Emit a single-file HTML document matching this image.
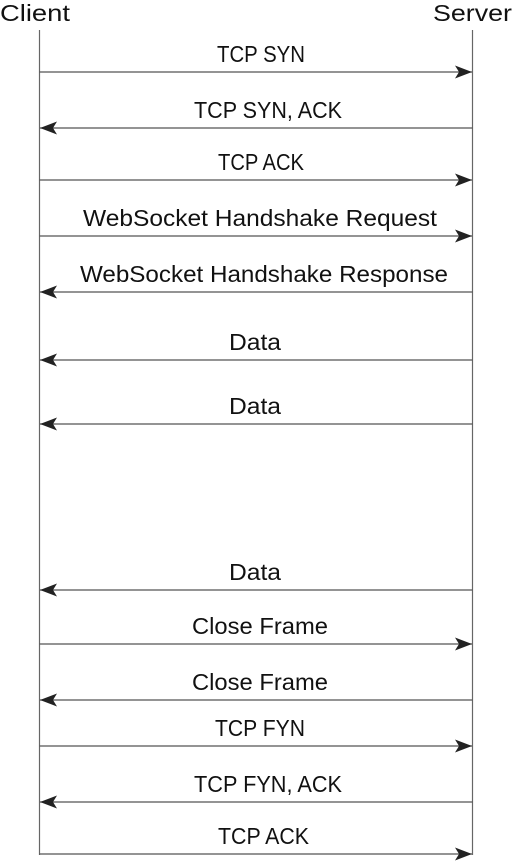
<!DOCTYPE html>
<html><head><style>html,body{margin:0;padding:0;background:#fff;}svg{display:block;}</style></head>
<body>
<svg width="512" height="866" xmlns="http://www.w3.org/2000/svg" font-family="Liberation Sans, sans-serif" font-size="23" fill="#111">
<defs>
<marker id="a" markerWidth="17" markerHeight="13" refX="17" refY="6.5" orient="auto" markerUnits="userSpaceOnUse">
<path d="M0,0 L17,6.5 L0,13 L4,6.5 Z" fill="#222"/>
</marker>
</defs>
<text x="0" y="21" textLength="70" lengthAdjust="spacingAndGlyphs">Client</text>
<text x="433" y="21" textLength="79" lengthAdjust="spacingAndGlyphs">Server</text>
<g stroke="#666" stroke-width="1.2">
<line x1="39.5" y1="30" x2="39.5" y2="855"/>
<line x1="472.5" y1="30" x2="472.5" y2="855"/>
</g>
<g stroke="#555" stroke-width="1.2" marker-end="url(#a)">
<line x1="39.5" y1="72" x2="472" y2="72"/>
<line x1="472.5" y1="128" x2="40" y2="128"/>
<line x1="39.5" y1="180" x2="472" y2="180"/>
<line x1="39.5" y1="236" x2="472" y2="236"/>
<line x1="472.5" y1="292" x2="40" y2="292"/>
<line x1="472.5" y1="360" x2="40" y2="360"/>
<line x1="472.5" y1="424" x2="40" y2="424"/>
<line x1="472.5" y1="590" x2="40" y2="590"/>
<line x1="39.5" y1="644" x2="472" y2="644"/>
<line x1="472.5" y1="700" x2="40" y2="700"/>
<line x1="39.5" y1="746" x2="472" y2="746"/>
<line x1="472.5" y1="802" x2="40" y2="802"/>
<line x1="39.5" y1="854" x2="472" y2="854"/>
</g>
<g>
<text x="217" y="62" textLength="88" lengthAdjust="spacingAndGlyphs">TCP SYN</text>
<text x="194" y="118" textLength="148" lengthAdjust="spacingAndGlyphs">TCP SYN, ACK</text>
<text x="218" y="170" textLength="86" lengthAdjust="spacingAndGlyphs">TCP ACK</text>
<text x="83" y="226" textLength="354" lengthAdjust="spacingAndGlyphs">WebSocket Handshake Request</text>
<text x="80" y="282" textLength="368" lengthAdjust="spacingAndGlyphs">WebSocket Handshake Response</text>
<text x="229" y="350" textLength="52" lengthAdjust="spacingAndGlyphs">Data</text>
<text x="229" y="414" textLength="52" lengthAdjust="spacingAndGlyphs">Data</text>
<text x="229" y="580" textLength="52" lengthAdjust="spacingAndGlyphs">Data</text>
<text x="192" y="634" textLength="136" lengthAdjust="spacingAndGlyphs">Close Frame</text>
<text x="192" y="690" textLength="136" lengthAdjust="spacingAndGlyphs">Close Frame</text>
<text x="215" y="736" textLength="90" lengthAdjust="spacingAndGlyphs">TCP FYN</text>
<text x="194" y="792" textLength="148" lengthAdjust="spacingAndGlyphs">TCP FYN, ACK</text>
<text x="218" y="844" textLength="91" lengthAdjust="spacingAndGlyphs">TCP ACK</text>
</g>
</svg>
</body></html>
